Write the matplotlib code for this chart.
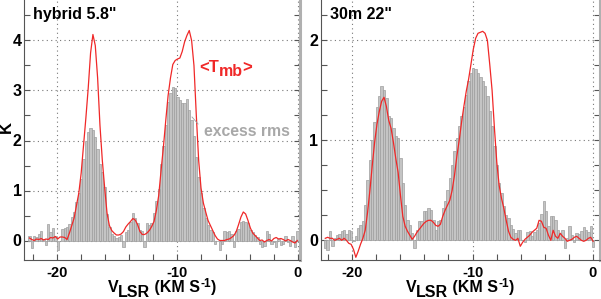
import numpy as np
import matplotlib
matplotlib.use("Agg")
import matplotlib.pyplot as plt
from matplotlib.ticker import MultipleLocator

plt.rcParams['font.family'] = ['Liberation Sans', 'DejaVu Sans']
plt.rcParams['font.weight'] = 'bold'
plt.rcParams['axes.unicode_minus'] = False

# ---------------- data ----------------
chan_width = 0.195            # km/s
left_v0 = -22.27              # first channel centre, left panel
right_v0 = -22.22             # first channel centre, right panel

left_excess = [
    0.10, -0.15, 0.09, 0.07, 0.14, 0.19, 0.04, -0.09, 0.33, 0.17,
    0.26, 0.10, -0.18, 0.00, 0.24, 0.26, 0.27, 0.34, 0.47, 0.57,
    0.77, 0.95, 1.24, 1.64, 2.00, 2.17, 2.26, 2.20, 2.07, 1.84,
    1.53, 1.37, 1.07, 0.54, 0.27, 0.14, 0.10, 0.06, 0.07, 0.12,
    -0.13, 0.17, 0.22, 0.38, 0.56, 0.45, 0.35, 0.22, 0.20, -0.12,
    0.35, 0.32, 0.36, 0.55, 0.80, 1.04, 1.54, 1.90, 2.30, 2.77,
    2.95, 3.07, 3.04, 2.87, 2.82, 2.75, 2.74, 2.83, 2.60, 2.40,
    2.10, 1.67, 1.27, 0.95, 0.65, 0.45, 0.32, 0.22, 0.17, -0.06,
    0.00, -0.19, -0.06, 0.20, 0.17, 0.19, 0.14, -0.13, 0.20, 0.24,
    0.37, 0.40, 0.37, 0.35, 0.22, 0.17, 0.12, 0.07, -0.06, -0.13,
    -0.10, 0.20, 0.14, -0.06, -0.03, -0.13, 0.04, -0.09, -0.06, 0.10,
    -0.03, -0.10, 0.10, -0.13, 0.19,
]
left_tmb = [
    0.05, 0.02, 0.00, 0.03, 0.02, 0.04, 0.01, 0.03, 0.02, 0.06,
    0.05, 0.08, 0.03, 0.07, 0.07, 0.06, 0.02, 0.15, 0.30, 0.45,
    0.70, 0.95, 1.35, 1.90, 2.45, 3.05, 3.75, 4.12, 3.90, 3.25,
    2.30, 1.60, 1.05, 0.55, 0.30, 0.20, 0.15, 0.11, 0.11, 0.13,
    0.18, 0.27, 0.33, 0.38, 0.44, 0.41, 0.32, 0.18, 0.12, 0.12,
    0.15, 0.20, 0.28, 0.38, 0.60, 0.90, 1.40, 1.87, 2.40, 2.90,
    3.25, 3.52, 3.60, 3.63, 3.65, 3.78, 3.97, 4.10, 4.20, 4.00,
    3.50, 2.50, 1.60, 1.05, 0.75, 0.57, 0.40, 0.30, 0.20, 0.10,
    0.03, 0.00, 0.00, 0.00, 0.02, 0.03, 0.06, 0.10, 0.18, 0.32,
    0.47, 0.57, 0.53, 0.40, 0.25, 0.15, 0.10, 0.05, 0.00, 0.01,
    -0.03, 0.00, 0.02, -0.01, 0.04, 0.06, 0.03, 0.04, 0.02, -0.01,
    0.02, 0.00, -0.03, -0.05, 0.00,
]
right_excess = [
    -0.08, -0.10, 0.09, -0.06, 0.02, 0.05, 0.06, 0.09, 0.10, 0.06,
    0.10, 0.09, -0.01, 0.04, 0.12, 0.15, 0.19, 0.35, 0.60, 0.80,
    1.00, 1.18, 1.33, 1.44, 1.54, 1.50, 1.42, 1.24, 1.22, 1.12,
    1.04, 1.02, 0.82, 0.57, 0.35, 0.20, 0.15, 0.07, -0.08, 0.10,
    0.19, 0.19, 0.29, 0.29, 0.32, 0.30, 0.20, 0.10, 0.19, 0.20,
    0.32, 0.39, 0.50, 0.62, 0.75, 0.89, 1.02, 1.14, 1.24, 1.33,
    1.45, 1.59, 1.67, 1.72, 1.71, 1.67, 1.63, 1.59, 1.54, 1.44,
    1.29, 1.14, 0.94, 0.75, 0.57, 0.47, 0.34, 0.25, 0.22, 0.15,
    0.11, 0.07, 0.10, 0.10, 0.00, -0.02, 0.08, 0.09, 0.04, 0.08,
    0.10, 0.17, 0.26, 0.39, 0.29, 0.14, 0.24, 0.24, 0.20, 0.10,
    0.07, 0.10, -0.08, 0.02, 0.14, 0.05, -0.02, 0.07, 0.06, 0.09,
    0.13, 0.10, 0.08, 0.14, -0.07,
]
right_tmb = [
    0.02, 0.03, 0.02, 0.02, 0.00, 0.01, 0.02, 0.00, 0.02, 0.00,
    -0.03, -0.04, -0.09, -0.17, -0.11, -0.04, 0.02, 0.10, 0.28, 0.50,
    0.75, 0.98, 1.16, 1.29, 1.39, 1.43, 1.34, 1.20, 1.12, 0.98,
    0.82, 0.68, 0.45, 0.24, 0.14, 0.09, 0.05, 0.01, 0.04, 0.08,
    0.11, 0.14, 0.17, 0.19, 0.20, 0.20, 0.18, 0.15, 0.14, 0.16,
    0.24, 0.30, 0.35, 0.40, 0.50, 0.65, 0.84, 1.00, 1.18, 1.34,
    1.49, 1.61, 1.76, 1.91, 2.02, 2.07, 2.08, 2.09, 2.07, 2.00,
    1.76, 1.50, 1.12, 0.78, 0.55, 0.42, 0.32, 0.20, 0.09, 0.03,
    0.01, 0.00, 0.02, -0.06, -0.02, 0.01, 0.03, 0.05, 0.08, 0.10,
    0.12, 0.20, 0.19, 0.13, 0.12, 0.05, 0.00, 0.10, 0.04, 0.02,
    0.07, 0.04, 0.02, -0.01, 0.00, 0.01, 0.03, 0.04, 0.02, 0.00,
    -0.01, 0.00, 0.02, 0.03, -0.01,
]

panel_titles = ['hybrid 5.8"', '30m 22"']
# x-label pieces: (text, fontsize pt, vertical shift px)
xlabel_parts = [('V', 11.5, 0), ('LSR', 11.5, -5), (' (KM S', 11.5, 0),
                ('-1', 8.5, 5), (')', 11.5, 0)]
tmb_parts = [('<T', 12, 0), ('mb', 11.5, -4), ('>', 12, 0)]

# ---------------- figure ----------------
W, H = 601, 299
fig = plt.figure(figsize=(W / 100, H / 100), dpi=100)
renderer = fig.canvas.get_renderer()

def frac_rect(x0, x1, y0, y1):
    return [x0 / W, 1 - y1 / H, (x1 - x0) / W, (y1 - y0) / H]

def composite(parts, x_px, y_base_px, color, center=False):
    """Draw text pieces side by side, x/y in pixels from top-left."""
    widths = []
    for s, fs, dy in parts:
        t = fig.text(0, 0, s, fontsize=fs, fontweight='bold')
        bb = t.get_window_extent(renderer=renderer)
        widths.append(bb.width)
        t.remove()
    total = sum(widths)
    x = x_px - total / 2 if center else x_px
    for (s, fs, dy), w in zip(parts, widths):
        fig.text(x / W, 1 - (y_base_px - dy) / H, s, fontsize=fs,
                 fontweight='bold', color=color, ha='left', va='baseline')
        x += w

axL = fig.add_axes(frac_rect(24.3, 300.0, 0.0, 260.0))
axR = fig.add_axes(frac_rect(320.7, 599.5, 0.0, 260.0))

bar_face = '#c4c4c4'
bar_edge = '#9e9e9e'
red = '#f02828'

def draw(ax, v0, excess, tmb, xlim, ylim, ymajor, yminor, title):
    n = len(excess)
    v = v0 + chan_width * np.arange(n)
    ax.bar(v, excess, width=chan_width, color=bar_face, edgecolor=bar_edge,
           linewidth=0.5, zorder=2)
    vt = v0 + chan_width * np.arange(len(tmb))
    ax.plot(vt, tmb, color=red, lw=0.9, zorder=3)
    ax.set_xlim(*xlim)
    ax.set_ylim(*ylim)
    ax.xaxis.set_major_locator(MultipleLocator(10))
    ax.xaxis.set_minor_locator(MultipleLocator(2))
    ax.yaxis.set_major_locator(MultipleLocator(ymajor))
    ax.yaxis.set_minor_locator(MultipleLocator(yminor))
    ax.grid(True, which='major', ls=(0, (1, 3)), color='#777777', lw=0.8, zorder=1)
    ax.set_axisbelow(True)
    ax.tick_params(axis='both', which='both', direction='in', color='#555555',
                   width=0.8, top=False, right=True, length=4)
    ax.tick_params(axis='x', labelsize=10.5, pad=4)
    ax.tick_params(axis='y', labelsize=11.5, pad=2)
    for lab in ax.get_xticklabels() + ax.get_yticklabels():
        lab.set_fontweight('bold')
    ax.spines['top'].set_visible(False)
    ax.spines['left'].set_color('#555555')
    ax.spines['bottom'].set_color('#555555')
    ax.spines['right'].set_color('#b0b0b0')
    ax.spines['right'].set_linewidth(2.2)
    ax.text(0.032, 0.946, title, transform=ax.transAxes, fontsize=11.5,
            fontweight='bold', ha='left', va='center', color='black')

draw(axL, left_v0, left_excess, left_tmb, (-22.7, 0.18), (-0.39, 4.81), 1, 0.5,
     panel_titles[0])
draw(axR, right_v0, right_excess, right_tmb, (-22.6, 0.54), (-0.197, 2.403), 1, 0.25,
     panel_titles[1])

# x labels (centred under each panel)
composite(xlabel_parts, 162, 292, 'black', center=True)
composite(xlabel_parts, 460, 292, 'black', center=True)

# <Tmb> label
composite(tmb_parts, 199, 72, red)

axL.text(-7.79, 2.17, 'excess rms', color='#a8a8a8', fontsize=11.3,
         fontweight='bold', ha='left', va='center', zorder=5)
axL.plot([-8.78, -8.28], [2.47, 2.33], color='#a0a0a0', lw=0.6, zorder=5)

fig.text(6 / W, 1 - 127 / H, 'K', rotation=90, fontsize=12, fontweight='bold',
         ha='center', va='center')

fig.savefig('out.png', dpi=100)
